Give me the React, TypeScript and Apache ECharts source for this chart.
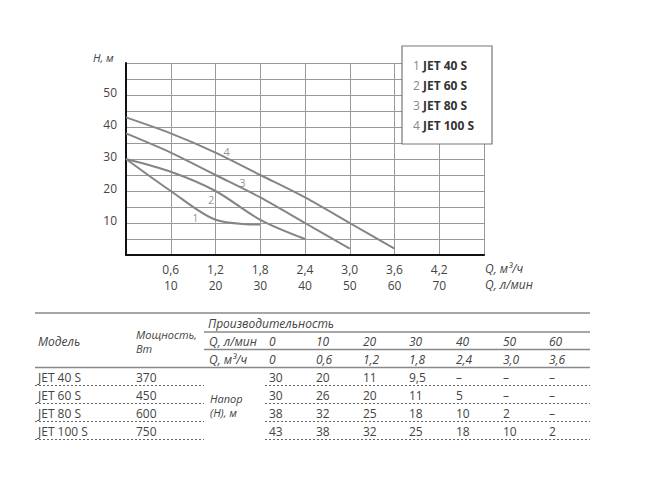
import React, { useEffect, useRef } from 'react';
import * as echarts from 'echarts';

const models = ['JET 40 S', 'JET 60 S', 'JET 80 S', 'JET 100 S'];
const powers = ['370', '450', '600', '750'];
const qLmin = [0, 10, 20, 30, 40, 50, 60];
const qM3 = ['0', '0,6', '1,2', '1,8', '2,4', '3,0', '3,6'];
const headJet40 = [30, 20, 11, 9.5, null, null, null];
const headJet60 = [30, 26, 20, 11, 5, null, null];
const headJet80 = [38, 32, 25, 18, 10, 2, null];
const headJet100 = [43, 38, 32, 25, 18, 10, 2];
const heads = [headJet40, headJet60, headJet80, headJet100];
const curveNumbers = ['1', '2', '3', '4'];
const curveLabelAt = [[15.5, 11.7], [19.0, 17.2], [26.0, 22.6], [22.5, 32.3]];

const xLabelsM3 = ['0,6', '1,2', '1,8', '2,4', '3,0', '3,6', '4,2'];
const xLabelsLmin = ['10', '20', '30', '40', '50', '60', '70'];
const yLabels = [10, 20, 30, 40, 50];

const FONT = '"Open Sans", sans-serif';
const TXT = '#444';

function fmt(v: number | null) {
  return v === null ? '–' : String(v).replace('.', ',');
}

export default function App() {
  const ref = useRef<HTMLDivElement>(null);
  useEffect(() => {
    if (!ref.current) return;
    const chart = echarts.init(ref.current, null, { renderer: 'svg' });

    const series: any[] = heads.map((h, i) => ({
      type: 'line',
      name: models[i],
      data: h
        .map((v, j) => (v === null ? null : [qLmin[j], v]))
        .filter((p) => p !== null),
      smooth: 0.3,
      symbol: 'none',
      lineStyle: { color: '#858585', width: 2 },
      itemStyle: { color: '#858585' },
      silent: true,
      z: 3,
    }));
    series.push({
      type: 'scatter',
      symbolSize: 0,
      silent: true,
      itemStyle: { color: '#777' },
      data: curveLabelAt.map((p, i) => ({ value: p, name: curveNumbers[i] })),
      label: {
        show: true,
        position: 'inside',
        formatter: '{b}',
        color: '#777',
        fontSize: 11,
        fontFamily: FONT,
      },
      z: 4,
    });

    const g: any[] = [];
    // axis titles
    g.push({ type: 'text', left: 93, top: 52, style: { text: 'H, м', font: `italic 11px ${FONT}`, fill: TXT } });
    g.push({ type: 'text', left: 485, top: 262, style: { text: 'Q, м³/ч', font: `italic 12px ${FONT}`, fill: TXT } });
    g.push({ type: 'text', left: 485, top: 278, style: { text: 'Q, л/мин', font: `italic 12px ${FONT}`, fill: TXT } });
    // legend box
    g.push({ type: 'rect', shape: { x: 402, y: 46, width: 90, height: 98 }, style: { fill: '#fff', stroke: '#777', lineWidth: 1.2 }, z: 10 });
    models.forEach((m, i) => {
      const y = 65 + i * 20;
      g.push({ type: 'text', x: 413, y, style: { text: curveNumbers[i], font: `12px ${FONT}`, fill: '#888', verticalAlign: 'middle' }, z: 11 });
      g.push({ type: 'text', x: 423, y, style: { text: m, font: `bold 12px ${FONT}`, fill: '#333', verticalAlign: 'middle' }, z: 11 });
    });

    // table
    const L = 35, R = 590, MID = 204, GAPR = 265;
    const colX = [269, 316, 363, 409, 456, 503, 549];
    const solid = (x1: number, x2: number, y: number) =>
      g.push({ type: 'line', shape: { x1, y1: y, x2, y2: y }, style: { stroke: '#888', lineWidth: 1.5 } });
    const dotted = (x1: number, x2: number, y: number) =>
      g.push({ type: 'line', shape: { x1, y1: y, x2, y2: y }, style: { stroke: '#666', lineWidth: 1, lineDash: [2, 2] } });
    const t = (text: string, x: number, y: number, italic = false, size = 12) =>
      g.push({ type: 'text', x, y, style: { text, font: `${italic ? 'italic ' : ''}${size}px ${FONT}`, fill: TXT, verticalAlign: 'middle' } });

    solid(L, R, 313);
    solid(MID, R, 332);
    solid(MID, R, 349.5);
    solid(L, R, 367.5);
    t('Производительность', 208, 323, true);
    t('Модель', 38, 341, true);
    t('Мощность,', 136, 334, true, 11);
    t('Вт', 136, 348, true, 11);
    t('Q, л/мин', 209, 341, true);
    t('Q, м³/ч', 209, 359, true);
    qLmin.forEach((q, j) => t(String(q), colX[j], 341, true));
    qM3.forEach((q, j) => t(q, colX[j], 359, true));
    t('Напор', 210, 398, true, 11);
    t('(Н), м', 210, 412, true, 11);
    models.forEach((m, i) => {
      const y = 377 + i * 18;
      t(m, 38, y);
      t(powers[i], 136, y);
      heads[i].forEach((v, j) => t(fmt(v), colX[j], y));
      dotted(L, MID, y + 8.5);
      dotted(GAPR, R, y + 8.5);
    });

    chart.setOption({
      animation: false,
      backgroundColor: '#fff',
      grid: { left: 126, right: 166, top: 63, bottom: 231, containLabel: false },
      xAxis: {
        type: 'value',
        min: 0,
        max: 80,
        interval: 10,
        axisLine: { show: true, onZero: false, lineStyle: { color: '#111', width: 2 } },
        axisTick: { show: false },
        splitLine: { show: true, lineStyle: { color: '#999', width: 1 } },
        axisLabel: {
          margin: 6,
          lineHeight: 16,
          fontSize: 12,
          fontFamily: FONT,
          color: TXT,
          showMinLabel: true,
          showMaxLabel: true,
          formatter: (v: number) => {
            const i = Math.round(v / 10);
            if (i >= 1 && i <= xLabelsM3.length) return `${xLabelsM3[i - 1]}\n${xLabelsLmin[i - 1]}`;
            return '';
          },
        },
      },
      yAxis: {
        type: 'value',
        min: 0,
        max: 60,
        interval: 5,
        axisLine: { show: true, onZero: false, lineStyle: { color: '#111', width: 2 } },
        axisTick: { show: false },
        splitLine: { show: true, lineStyle: { color: '#999', width: 1 } },
        axisLabel: {
          margin: 9,
          fontSize: 12,
          fontFamily: FONT,
          color: TXT,
          verticalAlign: 'bottom',
          lineHeight: 5,
          formatter: (v: number) => (yLabels.includes(v) ? String(v) : ''),
        },
      },
      series,
      graphic: g,
    });
    return () => chart.dispose();
  }, []);
  return (
    <div
      ref={ref}
      style={{ position: 'absolute', left: 0, top: 0, width: 650, height: 486, background: '#fff' }}
    />
  );
}
